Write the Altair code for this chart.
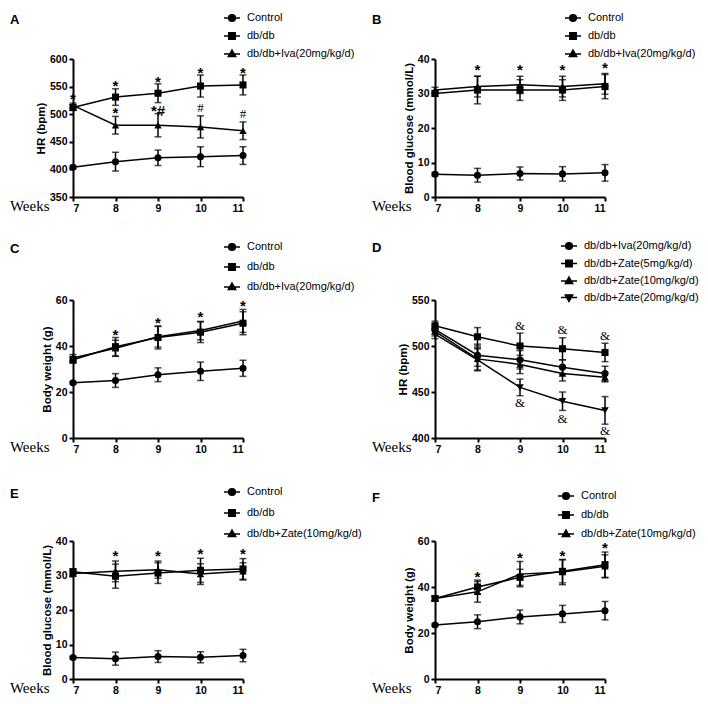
import altair as alt
import pandas as pd

weeks = [7, 8, 9, 10, 11]

# ---- Panel A: HR ----
A_series = ["Control", "db/db", "db/db+Iva(20mg/kg/d)"]
A_mean = [[404, 414, 421, 423, 425], [512, 531, 538, 551, 553], [516, 480, 480, 477, 470]]
A_err = [[3, 17, 14, 18, 16], [5, 15, 17, 20, 18], [4, 16, 21, 20, 16]]
A_star_x = [7, 8, 9, 10, 11, 8, 9]
A_star_y = [533, 556, 564, 580, 580, 507, 511]
A_star_t = ["*", "*", "*", "*", "*", "*", "*#"]
A_mark_x = [10, 11]
A_mark_y = [511, 500]
A_mark_t = ["#", "#"]

# ---- Panel B: Blood glucose ----
B_series = ["Control", "db/db", "db/db+Iva(20mg/kg/d)"]
B_mean = [[6.6, 6.3, 6.8, 6.7, 7.0], [30.0, 31.0, 31.0, 31.0, 32.0], [31.0, 32.0, 32.5, 32.0, 32.8]]
B_err = [[0.5, 2.0, 1.9, 2.1, 2.4], [0.8, 4.0, 3.0, 3.0, 3.5], [0.8, 3.0, 2.5, 3.0, 3.0]]
B_star_x = [8, 9, 10, 11]
B_star_y = [37.8, 37.8, 37.8, 38.2]
B_star_t = ["*", "*", "*", "*"]

# ---- Panel C: Body weight ----
C_series = ["Control", "db/db", "db/db+Iva(20mg/kg/d)"]
C_mean = [[24.0, 25.0, 27.5, 29.0, 30.3], [34.0, 39.7, 43.7, 46.0, 49.9], [34.8, 39.0, 44.0, 46.7, 50.9]]
C_err = [[0.5, 3.0, 3.0, 4.0, 3.5], [1.5, 4.0, 5.0, 4.5, 5.0], [1.5, 3.5, 4.5, 4.0, 5.0]]
C_star_x = [8, 9, 10, 11]
C_star_y = [46.0, 51.3, 53.7, 58.9]
C_star_t = ["*", "*", "*", "*"]

# ---- Panel D: HR, treatments ----
D_series = ["db/db+Iva(20mg/kg/d)", "db/db+Zate(5mg/kg/d)", "db/db+Zate(10mg/kg/d)", "db/db+Zate(20mg/kg/d)"]
D_mean = [[518, 490, 485, 477, 470], [522, 510, 500, 497, 493], [516, 486, 480, 470, 466], [513, 485, 455, 440, 430]]
D_err = [[5, 12, 10, 8, 8], [5, 10, 14, 12, 10], [5, 12, 10, 8, 5], [5, 12, 9, 10, 15]]
D_mark_x = [9, 9, 10, 10, 11, 11]
D_mark_y = [522, 438, 517, 421, 511, 408]
D_mark_t = ["&", "&", "&", "&", "&", "&"]

# ---- Panel E: Blood glucose ----
E_series = ["Control", "db/db", "db/db+Zate(10mg/kg/d)"]
E_mean = [[6.2, 5.9, 6.5, 6.3, 6.8], [31.1, 29.8, 30.7, 31.5, 31.9], [30.6, 31.2, 31.7, 30.4, 31.2]]
E_err = [[0.4, 1.9, 1.7, 1.6, 1.8], [0.8, 3.5, 3.0, 3.5, 3.0], [0.8, 3.0, 2.5, 3.0, 2.5]]
E_star_x = [8, 9, 10, 11]
E_star_y = [36.5, 36.5, 37.0, 37.0]
E_star_t = ["*", "*", "*", "*"]

# ---- Panel F: Body weight ----
F_series = ["Control", "db/db", "db/db+Zate(10mg/kg/d)"]
F_mean = [[23.5, 24.9, 27.0, 28.3, 29.7], [35.0, 40.0, 44.2, 46.8, 49.7], [35.0, 37.9, 45.6, 46.5, 49.0]]
F_err = [[0.5, 3.0, 3.0, 3.7, 4.0], [1.0, 3.0, 3.5, 5.0, 5.5], [1.0, 4.5, 5.5, 5.5, 5.0]]
F_star_x = [8, 9, 10, 11]
F_star_y = [45.6, 53.9, 54.6, 58.3]
F_star_t = ["*", "*", "*", "*"]

# legend symbols: short line + marker
LEG_SHAPES = [
    "M-1,0L1,0M-0.42,0A0.42,0.42,0,1,0,0.42,0A0.42,0.42,0,1,0,-0.42,0Z",
    "M-1,0L1,0M-0.4,-0.4L0.4,-0.4L0.4,0.4L-0.4,0.4Z",
    "M-1,0L1,0M0,-0.5L0.46,0.32L-0.46,0.32Z",
    "M-1,0L1,0M0,0.5L0.46,-0.32L-0.46,-0.32Z",
]
# plot markers
PT_SHAPES = ["circle", "square", "triangle-up", "triangle-down"]
PT_SIZES = [50, 50, 56, 56]

W, H = 170, 138


def panel(letter, series, means, errs, ydom, ystep, ytitle,
          star_x, star_y, star_t, mark_x, mark_y, mark_t, leg):
    rows = []
    for s, m, e in zip(series, means, errs):
        for w, v, d in zip(weeks, m, e):
            rows.append({"series": s, "week": w, "value": v, "lo": v - d, "hi": v + d})
    df = pd.DataFrame(rows)
    xs = alt.Scale(domain=[7, 11], nice=False, zero=False)
    ys = alt.Scale(domain=ydom, nice=False, zero=False)
    xax = alt.Axis(
        values=weeks, format="d", title="Weeks", titleFont="Liberation Serif",
        titleFontSize=15, titleFontWeight="normal", titleX=-24, titleY=13,
        titleAlign="right", titleBaseline="alphabetic", titleAngle=0)
    yax = alt.Axis(values=list(range(ydom[0], ydom[1] + 1, ystep)), title=ytitle)

    def X():
        return alt.X("week:Q", scale=xs, axis=xax, title="Weeks")

    def Y(f):
        return alt.Y(f, scale=ys, axis=yax, title=ytitle)

    base = alt.Chart(df)
    line = base.mark_line(color="black", strokeWidth=1.5).encode(
        x=X(), y=Y("value:Q"), detail="series:N", order="week:Q")
    rule = base.mark_rule(color="black", strokeWidth=1.5).encode(
        x=X(), y=Y("lo:Q"), y2="hi:Q")
    cap_lo = base.mark_tick(orient="horizontal", color="black", size=7, thickness=1.5).encode(
        x=X(), y=Y("lo:Q"))
    cap_hi = base.mark_tick(orient="horizontal", color="black", size=7, thickness=1.5).encode(
        x=X(), y=Y("hi:Q"))
    layers = [line, rule, cap_lo, cap_hi]
    for i, s in enumerate(series):
        layers.append(base.transform_filter(alt.datum.series == s).mark_point(
            filled=True, shape=PT_SHAPES[i], size=PT_SIZES[i], color="black", opacity=1,
            strokeWidth=0).encode(x=X(), y=Y("value:Q")))
    shape_scale = alt.Scale(domain=series, range=LEG_SHAPES[:len(series)])
    lx, ly, rp = leg
    legend_layer = base.mark_point(fill="black", stroke="black", strokeWidth=1.5, size=250).encode(
        x=X(), y=Y("value:Q"),
        shape=alt.Shape("series:N", scale=shape_scale, legend=alt.Legend(
            title=None, orient="none", legendX=lx, legendY=ly, padding=0, rowPadding=rp,
            labelFont="Liberation Sans", labelFontSize=11, labelColor="black", labelOffset=6,
            symbolSize=256, symbolStrokeWidth=1.5, symbolOpacity=1)),
        opacity=alt.value(0))
    layers.append(legend_layer)
    if star_x:
        sdf = pd.DataFrame({"week": star_x, "value": star_y, "t": star_t})
        layers.append(alt.Chart(sdf).mark_text(
            font="Liberation Sans", fontSize=15, fontWeight="bold", baseline="middle",
            dy=3, color="black").encode(x=X(), y=Y("value:Q"), text="t:N"))
    if mark_x:
        mdf = pd.DataFrame({"week": mark_x, "value": mark_y, "t": mark_t})
        layers.append(alt.Chart(mdf).mark_text(
            font="Liberation Serif", fontSize=13, baseline="middle", color="black").encode(
            x=X(), y=Y("value:Q"), text="t:N"))
    return alt.layer(*layers).properties(
        width=W, height=H,
        title=alt.TitleParams(letter, anchor="start", frame="group", font="Liberation Sans",
                              fontSize=13, fontWeight="bold", dx=-63, dy=22, color="black"))


pA = panel("A", A_series, A_mean, A_err, [350, 600], 50, "HR (bpm)",
           A_star_x, A_star_y, A_star_t, A_mark_x, A_mark_y, A_mark_t, (150, -50, 2))
pB = panel("B", B_series, B_mean, B_err, [0, 40], 10, "Blood glucose (mmol/L)",
           B_star_x, B_star_y, B_star_t, [], [], [], (129, -50, 2))
pC = panel("C", C_series, C_mean, C_err, [0, 60], 20, "Body weight (g)",
           C_star_x, C_star_y, C_star_t, [], [], [], (150, -62, 4))
pD = panel("D", D_series, D_mean, D_err, [400, 550], 50, "HR (bpm)",
           [], [], [], D_mark_x, D_mark_y, D_mark_t, (125, -63, 1.5))
pE = panel("E", E_series, E_mean, E_err, [0, 40], 10, "Blood glucose (mmol/L)",
           E_star_x, E_star_y, E_star_t, [], [], [], (150, -58, 5))
pF = panel("F", F_series, F_mean, F_err, [0, 60], 20, "Body weight (g)",
           F_star_x, F_star_y, F_star_t, [], [], [], (122, -54, 3))

chart = alt.concat(
    pA, pB, pC, pD, pE, pF, columns=2,
    spacing={"row": 103, "column": 192}, bounds="flush"
).resolve_scale(
    shape="independent", x="independent", y="independent"
).resolve_legend(
    shape="independent"
).properties(
    padding={"left": 1, "top": 1, "right": 1, "bottom": 1}
).configure_axis(
    domainColor="black", domainWidth=2, tickColor="black", tickWidth=2, tickSize=4,
    labelFont="Liberation Sans", labelFontSize=10.5, labelFontWeight="bold",
    labelColor="black", labelPadding=2, titleFont="Liberation Sans", titleFontSize=11.5,
    titleFontWeight="bold", titleColor="black", titlePadding=3, grid=False
).configure_view(strokeWidth=0)

chart.save("out.html", embed_options={"renderer": "svg", "actions": False})
